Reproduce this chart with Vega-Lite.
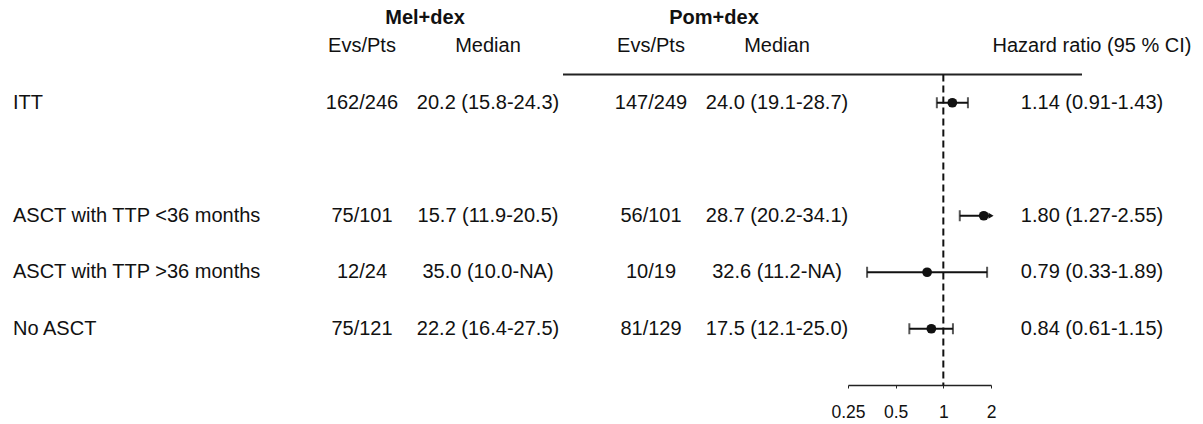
{
  "$schema": "https://vega.github.io/schema/vega-lite/v6.json",
  "width": 1203,
  "height": 385,
  "autosize": "none",
  "padding": {"left": 0, "top": 0, "right": 0, "bottom": 39},
  "background": "white",
  "config": {
    "view": {"stroke": null},
    "text": {"font": "Liberation Sans", "fontSize": 20, "color": "#111"}
  },
  "datasets": {
    "rows": [
      {"row": "h2", "label": "", "mel_ev": "Evs/Pts", "mel_med": "Median", "pom_ev": "Evs/Pts", "pom_med": "Median", "hr_txt": "Hazard ratio (95 % CI)"},
      {"row": "ITT", "label": "ITT", "mel_ev": "162/246", "mel_med": "20.2 (15.8-24.3)", "pom_ev": "147/249", "pom_med": "24.0 (19.1-28.7)", "hr": 1.14, "lo": 0.91, "hi": 1.43, "hr_txt": "1.14 (0.91-1.43)"},
      {"row": "ASCT<36", "label": "ASCT with TTP <36 months", "mel_ev": "75/101", "mel_med": "15.7 (11.9-20.5)", "pom_ev": "56/101", "pom_med": "28.7 (20.2-34.1)", "hr": 1.80, "lo": 1.27, "hi": 2.55, "hr_txt": "1.80 (1.27-2.55)"},
      {"row": "ASCT>36", "label": "ASCT with TTP >36 months", "mel_ev": "12/24", "mel_med": "35.0 (10.0-NA)", "pom_ev": "10/19", "pom_med": "32.6 (11.2-NA)", "hr": 0.79, "lo": 0.33, "hi": 1.89, "hr_txt": "0.79 (0.33-1.89)"},
      {"row": "NoASCT", "label": "No ASCT", "mel_ev": "75/121", "mel_med": "22.2 (16.4-27.5)", "pom_ev": "81/129", "pom_med": "17.5 (12.1-25.0)", "hr": 0.84, "lo": 0.61, "hi": 1.15, "hr_txt": "0.84 (0.61-1.15)"}
    ],
    "groups": [
      {"row": "h1", "grp": "Mel+dex"},
      {"row": "h1", "grp": "Pom+dex"}
    ]
  },
  "layer": [
    {
      "data": {"name": "rows"},
      "transform": [{"fold": ["mel_ev", "mel_med"], "as": ["col", "txt"]}],
      "mark": {"type": "text", "align": "center"},
      "encoding": {
        "x": {"field": "col", "type": "nominal", "scale": {"type": "point", "domain": ["mel_ev", "mel_med"], "range": [362, 488], "padding": 0}, "axis": null},
        "y": {"field": "row", "type": "nominal", "scale": {"type": "point", "domain": ["h1", "h2", "line", "ITT", "s1", "s2", "s3", "ASCT<36", "s4", "ASCT>36", "s5", "NoASCT", "s6", "axis"], "range": [18, 385.25], "padding": 0}, "axis": null},
        "text": {"field": "txt"}
      }
    },
    {
      "data": {"name": "rows"},
      "transform": [{"fold": ["pom_ev", "pom_med"], "as": ["col", "txt"]}],
      "mark": {"type": "text", "align": "center"},
      "encoding": {
        "x": {"field": "col", "type": "nominal", "scale": {"type": "point", "domain": ["pom_ev", "pom_med"], "range": [651, 777], "padding": 0}, "axis": null},
        "y": {"field": "row", "type": "nominal", "scale": {"type": "point", "domain": ["h1", "h2", "line", "ITT", "s1", "s2", "s3", "ASCT<36", "s4", "ASCT>36", "s5", "NoASCT", "s6", "axis"], "range": [18, 385.25], "padding": 0}, "axis": null},
        "text": {"field": "txt"}
      }
    },
    {
      "data": {"name": "rows"},
      "transform": [{"fold": ["hr_txt"], "as": ["col", "txt"]}],
      "mark": {"type": "text", "align": "center"},
      "encoding": {
        "x": {"field": "col", "type": "nominal", "scale": {"type": "point", "domain": ["hr_txt"], "range": [1082, 1102], "padding": 0}, "axis": null},
        "y": {"field": "row", "type": "nominal", "scale": {"type": "point", "domain": ["h1", "h2", "line", "ITT", "s1", "s2", "s3", "ASCT<36", "s4", "ASCT>36", "s5", "NoASCT", "s6", "axis"], "range": [18, 385.25], "padding": 0}, "axis": null},
        "text": {"field": "txt"}
      }
    },
    {
      "data": {"name": "rows"},
      "transform": [{"fold": ["label"], "as": ["col", "txt"]}],
      "mark": {"type": "text", "align": "left"},
      "encoding": {
        "x": {"field": "col", "type": "nominal", "scale": {"type": "point", "domain": ["label"], "range": [3, 23], "padding": 0}, "axis": null},
        "y": {"field": "row", "type": "nominal", "scale": {"type": "point", "domain": ["h1", "h2", "line", "ITT", "s1", "s2", "s3", "ASCT<36", "s4", "ASCT>36", "s5", "NoASCT", "s6", "axis"], "range": [18, 385.25], "padding": 0}, "axis": null},
        "text": {"field": "txt"}
      }
    },
    {
      "data": {"name": "groups"},
      "mark": {"type": "text", "align": "center", "fontWeight": "bold"},
      "encoding": {
        "x": {"field": "grp", "type": "nominal", "scale": {"type": "point", "domain": ["Mel+dex", "Pom+dex"], "range": [425, 714], "padding": 0}, "axis": null},
        "y": {"field": "row", "type": "nominal", "scale": {"type": "point", "domain": ["h1", "h2", "line", "ITT", "s1", "s2", "s3", "ASCT<36", "s4", "ASCT>36", "s5", "NoASCT", "s6", "axis"], "range": [18, 385.25], "padding": 0}, "axis": null},
        "text": {"field": "grp"}
      }
    },
    {
      "data": {"values": [{"row": "line", "from": "start", "to": "end"}]},
      "mark": {"type": "rule", "color": "#222", "strokeWidth": 2},
      "encoding": {
        "x": {"field": "from", "type": "nominal", "scale": {"type": "point", "domain": ["start", "end"], "range": [563, 1082], "padding": 0}, "axis": null},
        "x2": {"field": "to"},
        "y": {"field": "row", "type": "nominal", "scale": {"type": "point", "domain": ["h1", "h2", "line", "ITT", "s1", "s2", "s3", "ASCT<36", "s4", "ASCT>36", "s5", "NoASCT", "s6", "axis"], "range": [18, 385.25], "padding": 0}, "axis": null}
      }
    },
    {
      "layer": [
        {
          "data": {"values": [{"ref": 1, "from": "line", "to": "axis"}]},
          "mark": {"type": "rule", "color": "#111", "strokeWidth": 2, "strokeDash": [7, 4]},
          "encoding": {
            "x": {"field": "ref", "type": "quantitative", "scale": {"type": "log", "domain": [0.25, 2], "range": [848, 991], "clamp": true, "nice": false},
              "axis": {"values": [0.25, 0.5, 1, 2], "format": "~g", "title": null, "grid": false, "domainColor": "#222", "domainWidth": 1.5, "tickColor": "#222", "tickSize": 3, "labelFontSize": 17.5, "labelFont": "Liberation Sans", "labelColor": "#111", "labelPadding": 15, "labelFlush": false, "labelOverlap": false}},
            "y": {"field": "from", "type": "nominal", "scale": {"type": "point", "domain": ["h1", "h2", "line", "ITT", "s1", "s2", "s3", "ASCT<36", "s4", "ASCT>36", "s5", "NoASCT", "s6", "axis"], "range": [18, 385.25], "padding": 0}, "axis": null},
            "y2": {"field": "to"}
          }
        },
        {
          "data": {"name": "rows"},
          "transform": [{"filter": "isValid(datum.hr)"}],
          "mark": {"type": "rule", "color": "#111", "strokeWidth": 2},
          "encoding": {
            "x": {"field": "lo", "type": "quantitative"},
            "x2": {"field": "hi"},
            "y": {"field": "row", "type": "nominal", "scale": {"type": "point", "domain": ["h1", "h2", "line", "ITT", "s1", "s2", "s3", "ASCT<36", "s4", "ASCT>36", "s5", "NoASCT", "s6", "axis"], "range": [18, 385.25], "padding": 0}, "axis": null}
          }
        },
        {
          "data": {"name": "rows"},
          "transform": [{"filter": "isValid(datum.hr)"}],
          "mark": {"type": "tick", "color": "#111", "thickness": 2, "size": 11, "orient": "vertical"},
          "encoding": {
            "x": {"field": "lo", "type": "quantitative"},
            "y": {"field": "row", "type": "nominal", "scale": {"type": "point", "domain": ["h1", "h2", "line", "ITT", "s1", "s2", "s3", "ASCT<36", "s4", "ASCT>36", "s5", "NoASCT", "s6", "axis"], "range": [18, 385.25], "padding": 0}, "axis": null}
          }
        },
        {
          "data": {"name": "rows"},
          "transform": [{"filter": "isValid(datum.hr) && datum.hi <= 2"}],
          "mark": {"type": "tick", "color": "#111", "thickness": 2, "size": 11, "orient": "vertical"},
          "encoding": {
            "x": {"field": "hi", "type": "quantitative"},
            "y": {"field": "row", "type": "nominal", "scale": {"type": "point", "domain": ["h1", "h2", "line", "ITT", "s1", "s2", "s3", "ASCT<36", "s4", "ASCT>36", "s5", "NoASCT", "s6", "axis"], "range": [18, 385.25], "padding": 0}, "axis": null}
          }
        },
        {
          "data": {"name": "rows"},
          "transform": [{"filter": "isValid(datum.hr) && datum.hi > 2"}],
          "mark": {"type": "point", "shape": "triangle-right", "filled": true, "opacity": 1, "color": "#111", "size": 35},
          "encoding": {
            "x": {"field": "hi", "type": "quantitative"},
            "y": {"field": "row", "type": "nominal", "scale": {"type": "point", "domain": ["h1", "h2", "line", "ITT", "s1", "s2", "s3", "ASCT<36", "s4", "ASCT>36", "s5", "NoASCT", "s6", "axis"], "range": [18, 385.25], "padding": 0}, "axis": null}
          }
        },
        {
          "data": {"name": "rows"},
          "transform": [{"filter": "isValid(datum.hr)"}],
          "mark": {"type": "circle", "color": "#111", "opacity": 1, "size": 95},
          "encoding": {
            "x": {"field": "hr", "type": "quantitative"},
            "y": {"field": "row", "type": "nominal", "scale": {"type": "point", "domain": ["h1", "h2", "line", "ITT", "s1", "s2", "s3", "ASCT<36", "s4", "ASCT>36", "s5", "NoASCT", "s6", "axis"], "range": [18, 385.25], "padding": 0}, "axis": null}
          }
        }
      ]
    }
  ],
  "resolve": {"scale": {"x": "independent"}}
}
